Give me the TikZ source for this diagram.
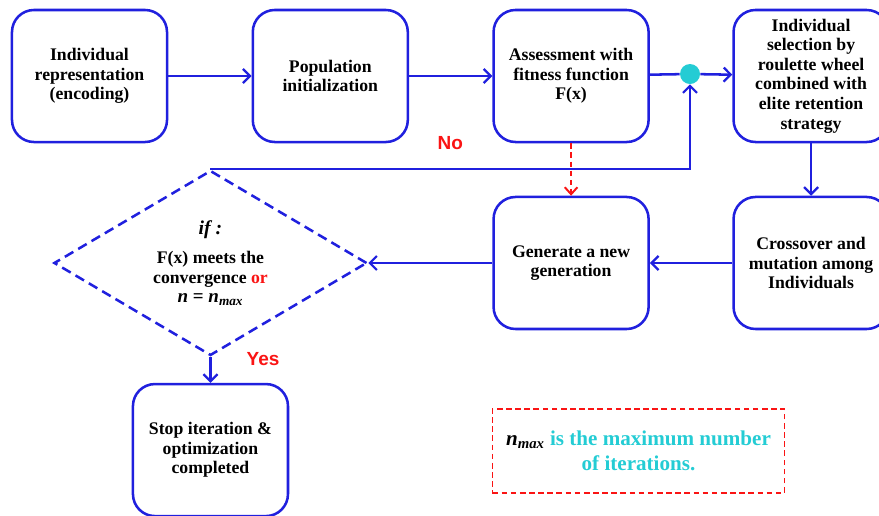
\documentclass[tikz,border=0pt]{standalone}
\usepackage{fontspec}
\setmainfont{Liberation Serif}
\setsansfont{Liberation Sans}
\usepackage{tikz}
\usetikzlibrary{positioning,arrows.meta,shapes.geometric,calc}
\usepackage{xcolor}
\definecolor{gablue}{RGB}{32,32,222}
\definecolor{gacyan}{RGB}{36,204,212}
\definecolor{gared}{RGB}{250,20,20}

\begin{document}
\begin{tikzpicture}[x=0.025cm,y=-0.025cm]
\useasboundingbox (0,0) rectangle (879,515);

\fontsize{12.6}{13.9}\selectfont
\bfseries
\tikzstyle{basenode}=[rounded corners=0.55cm, align=center];
\tikzstyle{step_box}=[basenode, draw=gablue, line width=1.8pt, fill=white, minimum height=3.3cm, minimum width=3.875cm, inner sep=1pt];
\tikzstyle{cond_box}=[diamond, aspect=1.69, draw=gablue, line width=1.8pt, dash pattern=on 7pt off 4pt, align=center, minimum width=7.825cm, minimum height=4.625cm, inner sep=0pt];
\tikzstyle{note_box}=[draw=gared, line width=1.2pt, dash pattern=on 4pt off 2.5pt, minimum width=7.3cm, minimum height=2.1cm, align=center, font=\bfseries\fontsize{15}{17.7}\selectfont];
\tikzstyle{basearr}=[line width=1.8pt, gablue];
\tikzstyle{arr}=[basearr, -{Straight Barb[length=5pt,width=10pt,line width=1.6pt]}];
\tikzstyle{redarr}=[line width=1.6pt, gared, dash pattern=on 4pt off 2.5pt, -{Straight Barb[length=5pt,width=9pt,line width=1.4pt]}];
\tikzstyle{lbl}=[gared, font=\sffamily\bfseries\fontsize{13.5}{16}\selectfont];

% top row
\node[step_box] (repr) at (89.5,76) {Individual\\ representation\\ (encoding)};
\node[step_box, right=2.08cm of repr] (init) {Population\\ initialization};
\node[step_box, right=2.08cm of init] (assess) {Assessment with\\ fitness function\\ F(x)};
\node[step_box, right=2.06cm of assess] (select) {Individual\\ selection by\\ roulette wheel\\ combined with\\ elite retention\\ strategy};

% second row
\node[step_box, below=1.31cm of select] (cross) {Crossover and\\ mutation among\\ Individuals};
\node[step_box, below=1.31cm of assess] (gen) {Generate a new\\ generation};
\node[cond_box, left=3.1cm of gen] (cond) {{\fontsize{14}{16}\selectfont\textit{if :}}\\[7pt] F(x) meets the\\ convergence \textcolor{gared}{or}\\ {\fontsize{13.5}{16}\selectfont\textit{n} = \textit{n}\textsubscript{\textit{max}}}};
\node[step_box, below=0.65cm of cond] (stop) {Stop iteration \&\\ optimization\\ completed};

\node[circle, fill=gacyan, minimum size=0.5cm, inner sep=0pt] (junc) at (690,74) {};

\node[note_box] (note) at (638.5,451) {\textit{n}\textsubscript{\textit{max}} \textcolor{gacyan}{is the maximum number}\\ \textcolor{gacyan}{of iterations.}};

\draw[ arr ] (repr) -- (init);
\draw[ arr ] (init) -- (assess);
\draw[ basearr ] (assess) -- (junc);
\draw[ arr ] (junc) -- (select);
\draw[ arr ] (select) -- (cross);
\draw[ arr ] (cross) -- (gen);
\draw[ arr ] (gen) -- (cond.east);
\draw[ redarr ] (assess) -- (gen);
\draw[ arr ] (cond.north) -| node[pos=0.25, lbl, above=0.3cm] (no) {No} (junc.south);
\draw[ arr ] (cond.south) -- (stop.north);
\node[lbl, right=0.75cm of cond.south, yshift=-0.05cm] (yes) {Yes};

\end{tikzpicture}
\end{document}
